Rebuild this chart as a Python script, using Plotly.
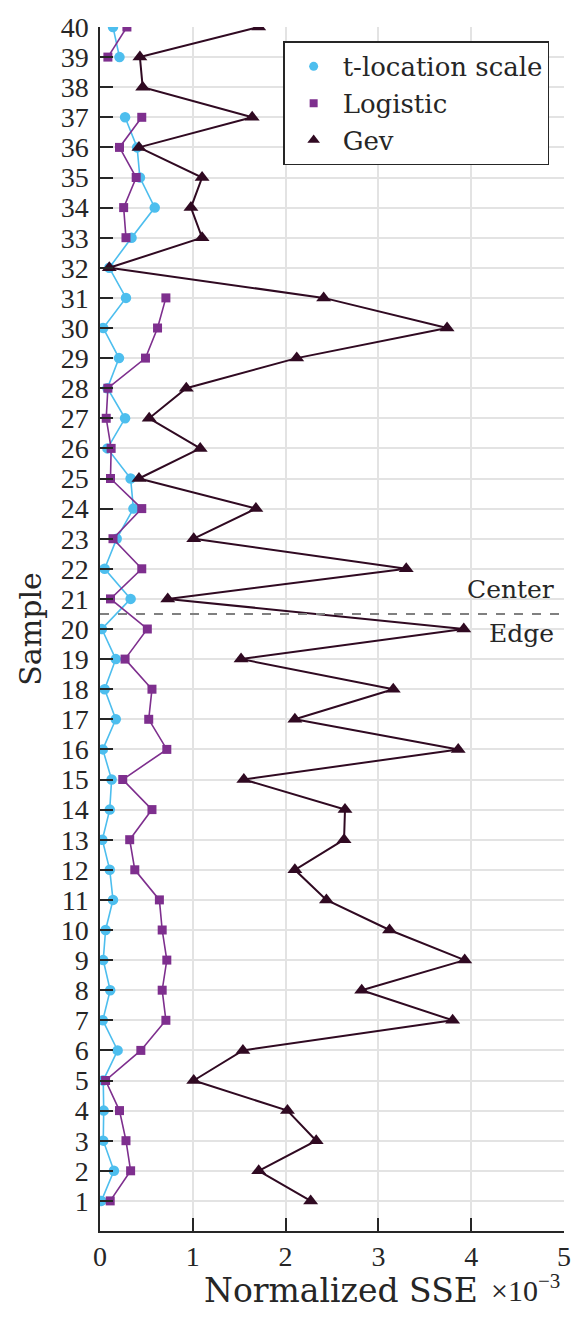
import plotly.graph_objects as go

# Normalized SSE (in units of 1e-3) per sample, samples 1..40
samples = list(range(1, 41))

t_location = [0.015, 0.15, 0.035, 0.04, 0.035, 0.19, 0.03, 0.11, 0.035, 0.06,
              0.14, 0.105, 0.025, 0.105, 0.125, 0.03, 0.17, 0.05, 0.17, 0.02,
              0.33, 0.05, 0.18, 0.36, 0.33, 0.08, 0.27, 0.08, 0.205, 0.035,
              0.28, 0.10, 0.34, 0.59, 0.43, 0.40, 0.27, None, 0.21, 0.14]

logistic = [0.11, 0.33, 0.28, 0.21, 0.06, 0.44, 0.71, 0.67, 0.72, 0.67,
            0.64, 0.375, 0.32, 0.56, 0.245, 0.72, 0.525, 0.56, 0.27, 0.51,
            0.113, 0.45, 0.14, 0.45, 0.113, 0.12, 0.067, 0.085, 0.49, 0.62,
            0.71, None, 0.28, 0.255, 0.39, 0.21, 0.45, None, 0.085, 0.29]

gev = [2.27, 1.71, 2.33, 2.02, 1.01, 1.54, 3.80, 2.82, 3.93, 3.12,
       2.44, 2.10, 2.63, 2.64, 1.55, 3.86, 2.10, 3.16, 1.52, 3.92,
       0.73, 3.30, 1.01, 1.68, 0.42, 1.08, 0.53, 0.93, 2.12, 3.74,
       2.41, 0.10, 1.10, 0.98, 1.10, 0.42, 1.64, 0.46, 0.43, 1.71]

x_ticks = [0, 1, 2, 3, 4, 5]
boundary = 20.5

TICK_FONT = "Liberation Serif"
TEXT_FONT = "DejaVu Serif"
INK = "#262626"
C_T = "#4DBEEE"
C_L = "#7E2F8E"
C_G = "#300A22"

series = [
    ("t-location scale", t_location, C_T, "circle", 10.5, 9, 1.6),
    ("Logistic", logistic, C_L, "square", 9, 8, 1.6),
    ("Gev", gev, C_G, "triangle-up", 13, 11, 2.0),
]

fig = go.Figure()
for name, vals, color, symbol, size, _, width in series:
    fig.add_trace(go.Scatter(
        x=vals, y=samples, name=name, mode="lines+markers", showlegend=False,
        line=dict(color=color, width=width),
        marker=dict(symbol=symbol, size=size, color=color)))
# legend entries show markers only
for name, _, color, symbol, _, lsize, _ in series:
    fig.add_trace(go.Scatter(
        x=[None], y=[None], name=name, mode="markers",
        marker=dict(symbol=symbol, size=lsize, color=color)))

# Center / Edge separator
fig.add_shape(type="line", x0=0, x1=5, y0=boundary, y1=boundary,
              xref="x", yref="y", line=dict(color="#808080", width=2, dash="dash"))
fig.add_annotation(x=4.91, y=21.31, xref="x", yref="y", text="Center",
                   showarrow=False, xanchor="right", yanchor="middle",
                   font=dict(family=TEXT_FONT, size=25, color=INK))
fig.add_annotation(x=4.91, y=19.85, xref="x", yref="y", text="Edge",
                   showarrow=False, xanchor="right", yanchor="middle",
                   font=dict(family=TEXT_FONT, size=25, color=INK))

# x axis label and its exponent
fig.add_annotation(x=0.52, y=0, xref="paper", yref="paper",
                   text="Normalized SSE", showarrow=False,
                   xanchor="center", yanchor="top", yshift=-38,
                   font=dict(family=TEXT_FONT, size=33, color=INK))
fig.add_annotation(x=0.995, y=0, xref="paper", yref="paper",
                   text="×10<sup>−3</sup>", showarrow=False,
                   xanchor="right", yanchor="top", yshift=-36,
                   font=dict(family=TICK_FONT, size=30, color=INK))

fig.update_xaxes(
    range=[0, 5], tickvals=x_ticks, showgrid=True, gridcolor="#E3E3E3", gridwidth=1.5,
    zeroline=False, showline=True, linecolor=INK, linewidth=1.5,
    ticks="inside", ticklen=13, tickwidth=1.5, tickcolor=INK,
    tickfont=dict(family=TICK_FONT, size=28, color=INK),
)
fig.update_yaxes(
    range=[0, 40], tickvals=samples, showgrid=True, gridcolor="#E3E3E3", gridwidth=1.5,
    zeroline=False, showline=True, linecolor=INK, linewidth=1.5,
    ticks="inside", ticklen=13, tickwidth=1.5, tickcolor=INK,
    tickfont=dict(family=TICK_FONT, size=28, color=INK),
    ticklabelstandoff=4,
    title=dict(text="Sample", font=dict(family=TEXT_FONT, size=30, color=INK),
               standoff=10),
)

fig.update_layout(
    width=583, height=1317,
    margin=dict(l=100, r=16, t=24, b=86),
    plot_bgcolor="white", paper_bgcolor="white",
    legend=dict(
        x=0.968, y=0.988, xanchor="right", yanchor="top",
        bgcolor="white", bordercolor=INK, borderwidth=1.5,
        font=dict(family=TEXT_FONT, size=26, color=INK),
        itemwidth=48,
    ),
)

fig.write_html("out.html")
